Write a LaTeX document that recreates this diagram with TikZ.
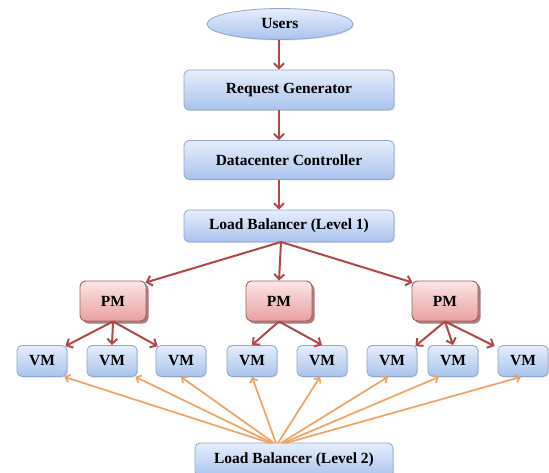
\documentclass[tikz,border=0pt]{standalone}
\usepackage{fontspec}
\setmainfont{Liberation Serif}
\usetikzlibrary{shapes.geometric,arrows.meta,shadows}
\definecolor{bluetop}{HTML}{E6EEFB}
\definecolor{bluebot}{HTML}{A9C3EE}
\definecolor{blueedge}{HTML}{8EA6CE}
\definecolor{pinktop}{HTML}{FCE6E6}
\definecolor{pinkbot}{HTML}{E9A0A0}
\definecolor{pinkedge}{HTML}{A85E5E}
\definecolor{redarr}{HTML}{B2474A}
\definecolor{orarr}{HTML}{F0A463}
\tikzset{
  lbl/.style={font=\fontsize{15.5}{17}\selectfont\bfseries},
  bluebox/.style={draw=blueedge, line width=0.8pt, rounded corners=5pt, top color=bluetop, bottom color=bluebot,
    lbl, inner sep=0pt,
    drop shadow={shadow xshift=1pt, shadow yshift=-1pt, opacity=0.25}},
  pmbox/.style={draw=pinkedge, line width=0.9pt, rounded corners=6pt, top color=pinktop, bottom color=pinkbot,
    lbl, inner sep=0pt, minimum width=66pt, minimum height=40pt,
    drop shadow={shadow xshift=2.5pt, shadow yshift=-2.5pt, opacity=0.7, fill=pinkedge!75!black}},
  vmbox/.style={bluebox, minimum width=50pt, minimum height=31pt},
  redline/.style={draw=redarr, line width=2pt, -{Straight Barb[length=5pt,width=10pt,line width=2pt]}},
  orline/.style={draw=orarr, line width=1.7pt, -{Straight Barb[length=4pt,width=8pt,line width=1.7pt]}},
}
\begin{document}
\begin{tikzpicture}[x=1pt,y=-1pt]
\clip (0,0) rectangle (549,473);
\fill[white] (0,0) rectangle (549,473);
% top chain
\node[ellipse, draw=blueedge, line width=0.8pt, top color=bluetop, bottom color=bluebot,
  minimum width=146pt, minimum height=31pt, inner sep=0pt, lbl,
  drop shadow={shadow xshift=1pt, shadow yshift=-1pt, opacity=0.25}] (users) at (280,24) {Users};
\node[bluebox, minimum width=210pt, minimum height=40pt] (req) at (289,90) {Request Generator};
\node[bluebox, minimum width=210pt, minimum height=39pt] (dc) at (289,160) {Datacenter Controller};
\node[bluebox, minimum width=210pt, minimum height=32pt] (lb1) at (289,226) {Load Balancer (Level 1)};
% PMs
\node[pmbox] (pm1) at (113,301) {PM};
\node[pmbox] (pm2) at (279,301) {PM};
\node[pmbox] (pm3) at (445,301) {PM};
% VMs
\node[vmbox] (vm1) at (42,361) {VM};
\node[vmbox] (vm2) at (112,361) {VM};
\node[vmbox] (vm3) at (181,361) {VM};
\node[vmbox] (vm4) at (252,361) {VM};
\node[vmbox] (vm5) at (322,361) {VM};
\node[vmbox] (vm6) at (392,361) {VM};
\node[vmbox] (vm7) at (453,361) {VM};
\node[vmbox] (vm8) at (523,361) {VM};
% bottom
\node[bluebox, minimum width=198pt, minimum height=34pt] (lb2) at (294,460) {Load Balancer (Level 2)};
% red arrows
\draw[redline] (users.south -| 279,0) -- (req.north -| 279,0);
\draw[redline] (req.south -| 279,0) -- (dc.north -| 279,0);
\draw[redline] (dc.south -| 279,0) -- (lb1.north -| 279,0);
\coordinate (lbo) at (281,242);
\draw[redline] (lbo) -- ([xshift=-1pt,yshift=-2pt]pm1.north east);
\draw[redline] (lbo) -- (pm2.north);
\draw[redline] (lbo) -- ([xshift=1pt,yshift=-2pt]pm3.north west);
\draw[redline] (pm1.south) -- ([xshift=-2pt,yshift=-1pt]vm1.north east);
\draw[redline] (pm1.south) -- (vm2.north);
\draw[redline] (pm1.south) -- ([xshift=2pt,yshift=-1pt]vm3.north west);
\draw[redline] (pm2.south) -- (vm4.north);
\draw[redline] (pm2.south) -- (vm5.north);
\draw[redline] (pm3.south) -- ([xshift=-2pt,yshift=-1pt]vm6.north east);
\draw[redline] (pm3.south) -- (vm7.north);
\draw[redline] (pm3.south) -- ([xshift=-3pt,yshift=-1pt]vm8.north west);
% orange arrows
\draw[orline] (270,443) -- ([xshift=-3pt]vm1.south east);
\draw[orline] (272,443) -- ([xshift=-2pt]vm2.south east);
\draw[orline] (274,443) -- (vm3.south);
\draw[orline] (276,443) -- (vm4.south);
\draw[orline] (278,443) -- ([xshift=-2pt]vm5.south);
\draw[orline] (281,443) -- ([xshift=-4pt]vm6.south);
\draw[orline] (283,443) -- ([xshift=-14pt]vm7.south);
\draw[orline] (286,443) -- ([xshift=-2pt]vm8.south);
\end{tikzpicture}
\end{document}
